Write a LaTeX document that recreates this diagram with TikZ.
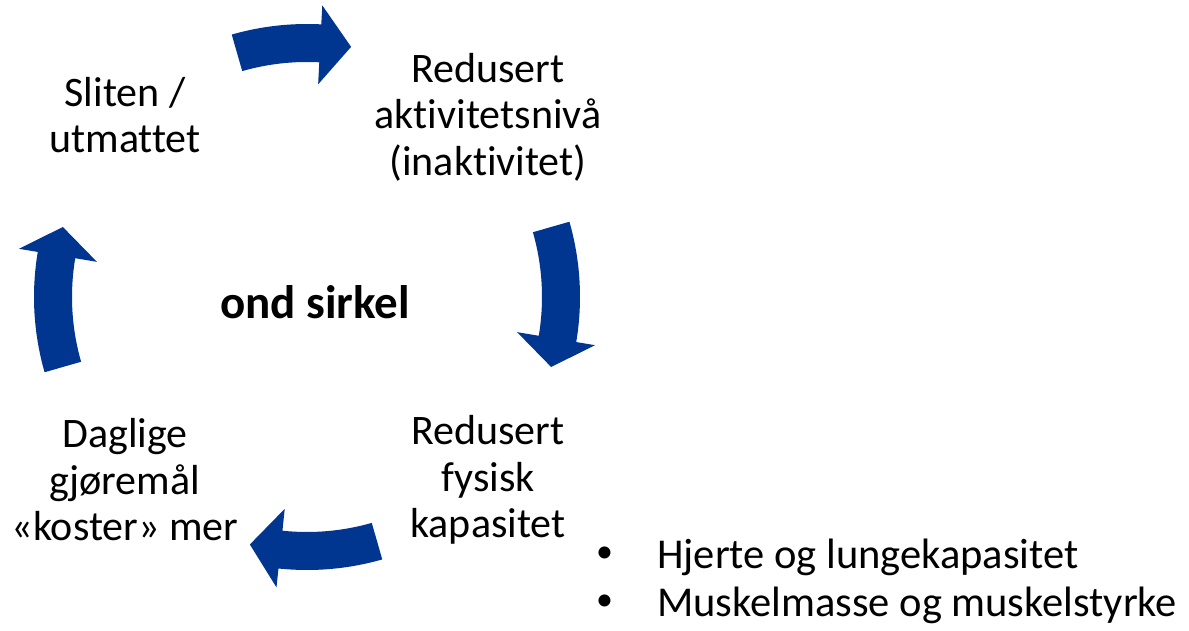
\documentclass[tikz,border=0pt]{standalone}
\usepackage{fontspec}
\setmainfont{Carlito}[RawFeature={-liga}]
\usetikzlibrary{calc}
\definecolor{arrowblue}{RGB}{0,54,143}
\newcommand\cyclearrow[3]{%
  \fill[arrowblue] ($(C)+(#1:273)$) arc[start angle=#1,end angle=#2,radius=273]
    -- ($(C)+(#2:292)$) -- ($(C)+(#3:254)$) -- ($(C)+(#2:213)$)
    -- ($(C)+(#2:235)$) arc[start angle=#2,end angle=#1,radius=235] -- cycle;}
\begin{document}
\begin{tikzpicture}[x=1pt,y=1pt,
  lbl/.style={align=center,inner sep=0pt,font=\fontsize{42}{46.5}\selectfont},
  blt/.style={anchor=west,inner sep=0pt,font=\fontsize{42.5}{46.5}\selectfont}]
\useasboundingbox (0,0) rectangle (1189,631);
\coordinate (C) at (307,334);
\cyclearrow{106}{87}{80}
\cyclearrow{16}{-9.5}{-16}
\cyclearrow{-74}{-96}{-103}
\cyclearrow{196}{170.5}{164}
\node[lbl] (sliten) at (125,516) {Sliten /\\utmattet};
\node[lbl] (akt) at (488,514) {Redusert\\aktivitetsnivå\\(inaktivitet)};
\node[lbl] (fys) at (488,151) {Redusert\\fysisk\\kapasitet};
\node[lbl] (dag) at (125,151) {Daglige\\gjøremål\\«koster» mer};
\node[lbl,font=\fontsize{47}{50}\selectfont\bfseries] (ond) at (315,329) {ond sirkel};
\node[blt,font=\fontsize{34}{40}\selectfont] (b1) at (596,76) {•};
\node[blt] (t1) at (657,74) {Hjerte og lungekapasitet};
\node[blt,font=\fontsize{34}{40}\selectfont] (b2) at (596,28) {•};
\node[blt] (t2) at (657,26) {Muskelmasse og muskelstyrke};
\end{tikzpicture}
\end{document}
